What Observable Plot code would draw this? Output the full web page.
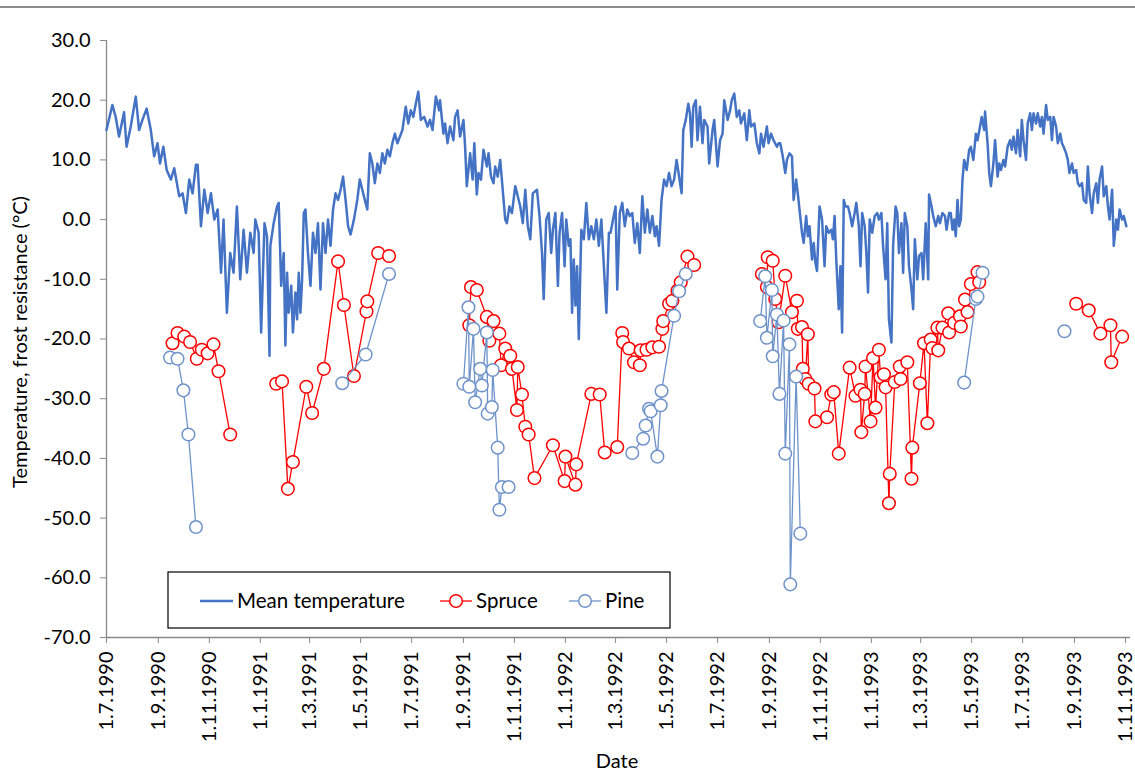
<!DOCTYPE html>
<html><head><meta charset="utf-8">
<script src="https://cdn.jsdelivr.net/npm/d3@7"></script>
<script src="https://cdn.jsdelivr.net/npm/@observablehq/plot@0.6"></script>
<style>
html,body{margin:0;padding:0;background:#fff;}
#chart{position:relative;width:1135px;height:772px;overflow:hidden;}
#topline{position:absolute;left:0;top:6px;width:1135px;height:0;border-top:2px solid #8c8c8c;}
</style></head>
<body><div id="chart"><div id="topline"></div></div>
<script>
// ---- data ----
const startDate = "1990-07-01";   // day 0
const endDate = "1993-11-07";
const xTickDates = ["1990-07-01","1990-09-01","1990-11-01","1991-01-01","1991-03-01","1991-05-01","1991-07-01","1991-09-01","1991-11-01","1992-01-01","1992-03-01","1992-05-01","1992-07-01","1992-09-01","1992-11-01","1993-01-01","1993-03-01","1993-05-01","1993-07-01","1993-09-01","1993-11-01"];
const yTicks = [-70,-60,-50,-40,-30,-20,-10,0,10,20,30];

// mean temperature: days since startDate, value (°C)
const tempDays = [
0,7,11,15,21,24,29,35,39,43,48,53,57,61,64,68,72,77,81,87,91,95,99,103,107,109,113,117,121,125,129,133,137,140,144,148,152,156,160,164,168,172,176,178,182,185,189,192,195,
196,200,204,206,209,212,214,216,218,221,223,226,228,230,232,234,236,238,241,244,247,250,253,256,259,262,265,268,271,274,277,280,283,286,289,292,296,300,303,306,309,312,315,318,321,324,327,330,333,336,339,342,345,348,351,354,358,361,364,367,370,373,376,380,384,387,390,394,398,
399,403,405,408,411,415,417,420,423,427,429,431,435,438,440,443,445,448,451,455,457,460,463,465,468,471,474,477,479,482,485,489,492,495,498,501,504,507,510,515,518,521,523,526,529,532,534,537,540,542,545,548,550,553,555,557,559,561,563,565,568,571,574,577,580,583,586,589,592,595,598,601,
603,606,609,611,614,617,620,623,626,629,632,635,638,641,644,647,650,653,656,658,661,664,667,670,673,676,679,682,685,688,690,693,696,698,700,702,705,707,710,713,715,719,721,725,727,731,734,737,739,743,746,748,751,754,757,759,763,766,769,771,775,778,781,783,786,790,792,795,798,802,804,
806,809,812,814,817,820,822,825,827,829,832,834,837,839,841,844,846,848,850,853,856,859,861,864,867,869,871,873,876,878,880,882,884,887,889,892,895,897,900,902,904,907,909,911,913,916,919,922,924,927,929,932,934,936,939,941,944,946,948,951,953,955,958,960,963,965,967,970,972,975,977,980,983,984,987,989,992,995,997,1000,1003,1005,1008,
1010,1012,1014,1016,1018,1020,1022,1024,1026,1029,1032,1034,1037,1040,1042,1045,1047,1050,1051,1054,1056,1058,1061,1063,1066,1068,1070,1073,1075,1078,1081,1083,1085,1088,1090,1093,1095,1097,1100,1102,1105,1107,1109,1112,1114,1117,1119,1121,1124,1126,1129,1131,1133,1136,1138,1141,1143,1145,1148,1150,1152,1155,1157,1160,1162,1164,1167,1169,1172,1174,1176,1179,1181,1184,1186,1188,1191,1193,1196,1198,1200,1203,1205,1208,1210,1212,1215,1217,1220
];
const tempValues = [
15,19.2,17.2,13.9,18,12.2,15.6,20.6,15,16.7,18.6,15,10.6,12.8,9.4,12.2,8.3,6.7,8.6,3.9,4.4,1.1,6.7,4.4,9.2,9.2,-1.1,5,1.1,4.4,0,1.7,-8.9,0,-15.6,-5.6,-8.9,2.2,-10,-1.7,-8.9,-2.2,-5.6,0,-2.2,-18.9,-0.6,-2.8,-22.8,
-4.4,-0.6,2.2,2.8,-11.1,-5.6,-21.1,-8.9,-15.6,-11.1,-18.9,-12.2,-16.7,-8.9,-15.6,-10,1.1,1.7,-5.6,-11.1,-2.2,-5.6,-0.6,-11.7,-0.6,-5.6,0,-4.4,1.7,4.4,3.3,5,7.2,3.3,-1.1,-2.5,0,3.3,6.7,5,3.3,1.7,11.1,9.4,6.1,9.4,7.8,11.1,9.4,11.7,10.6,12.8,14.4,12.8,13.9,15,18.9,16.1,18.3,17.2,19.4,21.4,16.7,17.2,15.6,16.7,15,20.6,18.3,
20,14.4,16.1,12.8,15.6,13.3,17.2,18.3,13.9,16.7,12.2,5.6,11.1,6.7,12.8,4.2,7.8,6.7,11.7,8.9,11.1,7.2,6.1,8.9,7.2,10,5,0,-0.6,2.2,1.1,5.6,3.9,2.2,-0.6,5,-1.1,-3.3,4.4,5,0.6,-5.6,-13.3,0,1.1,-5.6,-1.7,1.1,-11.1,-2.2,1.1,-7.8,0,-4.4,-3.3,-15.6,-6.7,-14.4,-7.8,-20,-1.7,-3.3,2.8,-3.3,-1.1,-3.3,0,-4.4,0,-7.8,-15.6,-2.2,
-2.2,0,2.2,-11.7,1.1,2.8,-1.1,1.7,0.6,1.1,-3.9,-0.6,-5.6,3.9,-2.2,1.7,-2.2,0.6,-2.8,-1.1,-4.4,3.3,6.7,5.6,7.8,5.6,6.7,10,7.2,4.4,15,16.7,19.4,17.8,12.2,18.9,20,13.3,18.9,12.8,16.7,15.6,9.4,15,16.7,8.9,13.3,14.4,20,16.7,18.3,20,21.1,17.2,18.3,16.1,17.8,13.3,18.3,15.6,16.1,12.8,11.1,14.4,12.2,15.6,12.8,14.4,13.3,12.2,12.8,
12.8,10.6,7.8,10,11.1,10.6,3.3,6.7,4.4,1.7,-2.2,-3.9,0.6,-2.8,-1.1,-6.7,-3.9,-7.2,-8.6,2.2,0,-7.8,-1.1,-2.2,-1.7,-3.3,0.6,-6.7,-15,-7.8,-18.9,3.3,2.2,2.2,1.1,-1.1,1.1,2.8,-1.1,-7.8,1.1,-1.1,-5.6,-12.2,0,-2.2,0.6,1.1,0,1.1,-4.4,-10,-0.6,-16.7,-20.6,-4.4,2.2,1.1,-5.6,-0.6,-8.9,1.1,-1.1,-7.8,-11.7,-15,-3.3,-10,-6.1,-5.6,-10,-0.6,-10,4.2,2.2,0.6,-1.1,0.6,-0.6,1.1,0.6,-1.7,1.1,
1.1,-1.7,0,-2.8,3.3,-1.1,0,6.7,10,8.3,11.7,12.2,10,14.4,13.3,15.6,17.2,15,18.1,12.8,7.8,5.6,9.4,13.3,7.2,9.4,8.3,10,8.9,12.2,13.3,11.7,13.9,11.1,15,10.6,16.7,13.3,10,16.1,17.8,15,17.8,16.1,17.8,15.6,17.2,14.4,19.2,16.7,17.2,13.3,17.2,15.6,12.8,14.4,12.8,12.2,11.1,10,7.8,9.4,7.8,8.3,6.1,5.6,6.1,3.3,2.8,8.9,4.4,1.1,4.4,6.1,2.8,6.7,8.9,3.9,5.6,2.2,0,5,-4.4,0,-1.7,1.7,0,0.6,-1.1
];

// frost resistance, spruce: one inner array per measuring season (days since startDate)
const spruceDays = [
  [79,85,93,100,108,114,121,128,134,148],
  [203,210,217,223,239,246,260,277,284,296,311,312,325,338],
  [434,436,443,455,458,463,470,472,477,483,485,491,492,497,501,505,512,534,548,549,561,562,580,590,596,611,617,618,625,631,638,639,646,653,661,665,666,673,677,683,687,695,703],
  [784,790,791,797,800,804,812,820,826,827,832,833,836,839,840,847,848,862,867,870,876,889,896,902,903,907,908,914,917,920,924,926,930,932,936,937,943,949,950,958,963,964,973,978,982,986,988,994,995,1000,1007,1008,1014,1021,1022,1027,1030,1034,1042,1044],
  [1160,1175,1189,1201,1202,1215]
];
const spruceValues = [
  [-20.7,-19.0,-19.6,-20.5,-23.3,-21.8,-22.4,-20.9,-25.4,-36.0],
  [-27.5,-27.1,-45.1,-40.6,-28.0,-32.4,-25.0,-7.0,-14.3,-26.2,-15.4,-13.7,-5.6,-6.1],
  [-17.7,-11.3,-11.8,-16.3,-20.3,-17.0,-19.1,-24.4,-21.6,-22.8,-25.0,-31.9,-24.7,-29.3,-34.7,-36.0,-43.3,-37.8,-43.8,-39.7,-44.4,-41.0,-29.2,-29.3,-39.0,-38.1,-19.0,-20.5,-21.6,-23.9,-24.4,-21.9,-21.8,-21.4,-21.3,-18.3,-17.0,-14.1,-13.6,-11.9,-10.5,-6.2,-7.6],
  [-9.1,-11.3,-6.3,-6.9,-13.3,-17.2,-9.4,-15.5,-13.6,-18.3,-18.0,-25.0,-26.7,-19.2,-27.5,-28.3,-33.8,-33.1,-29.3,-28.9,-39.2,-24.8,-29.5,-28.5,-35.6,-29.2,-24.6,-33.8,-23.2,-31.5,-21.8,-26.4,-25.9,-28.1,-47.5,-42.6,-27.2,-24.6,-26.7,-23.9,-43.4,-38.2,-27.4,-20.7,-34.1,-20.1,-21.5,-18.1,-21.9,-18.1,-15.7,-18.9,-17.3,-16.2,-17.9,-13.4,-15.5,-10.8,-8.8,-10.5],
  [-14.1,-15.2,-19.1,-17.7,-23.9,-19.6]
];

// frost resistance, pine
const pineDays = [
  [76,85,92,98,107],
  [282,310,338],
  [427,433,434,439,441,447,449,455,456,461,462,468,470,473,481],
  [629,642,645,649,651,659,663,664,679,685,693],
  [782,788,790,796,797,802,805,810,812,817,818,825,830],
  [1026,1040,1042,1048],
  [1146]
];
const pineValues = [
  [-23.1,-23.3,-28.6,-36.0,-51.5],
  [-27.4,-22.6,-9.1],
  [-27.5,-14.7,-28.0,-18.3,-30.6,-25.0,-27.8,-18.9,-32.5,-31.4,-25.2,-38.2,-48.6,-44.8,-44.8],
  [-39.1,-36.7,-34.5,-31.7,-32.1,-39.7,-31.1,-28.7,-16.1,-12.0,-9.1],
  [-17.0,-9.5,-19.8,-11.8,-22.9,-15.9,-29.2,-16.9,-39.2,-20.9,-61.1,-26.3,-52.6],
  [-27.3,-13.3,-12.9,-8.9],
  [-18.7]
];

const seriesNames = ["Mean temperature", "Spruce", "Pine"];
const seriesColors = ["#4472C4", "#FF0000", "#6E93CA"];

// ---- build ----
const t0 = new Date(startDate + "T00:00:00Z");
const toDate = d => d3.utcDay.offset(t0, d);
const temp = tempDays.map((d, i) => ({date: toDate(d), value: tempValues[i]}));
const seasonRows = (days, vals) => days.flatMap((ds, s) => ds.map((d, i) => ({date: toDate(d), value: vals[s][i], season: s})));
const spruce = seasonRows(spruceDays, spruceValues);
const pine = seasonRows(pineDays, pineValues);
const xDomain = [t0, new Date(endDate + "T00:00:00Z")];
const fmtDate = d => `${d.getUTCDate()}.${d.getUTCMonth() + 1}.${d.getUTCFullYear()}`;
const axisGray = "#898989";

const chart = Plot.plot({
  width: 1135, height: 772,
  marginLeft: 106, marginRight: 5, marginTop: 40, marginBottom: 135,
  style: {fontFamily: "Lato, 'Open Sans', sans-serif", fontSize: "20px", color: "#000", background: "transparent"},
  x: {type: "utc", domain: xDomain},
  y: {domain: [-70, 30]},
  marks: [
    Plot.ruleX([xDomain[0]], {y1: -70, y2: 30, stroke: axisGray, strokeWidth: 1.3}),
    Plot.ruleY([-70], {stroke: axisGray, strokeWidth: 1.3}),
    Plot.axisY({ticks: yTicks, tickFormat: d => d.toFixed(1), tickSize: 6, tickPadding: 10, stroke: axisGray, fill: "#000", label: null, fontSize: 20}),
    Plot.axisX({ticks: xTickDates.map(s => new Date(s + "T00:00:00Z")), tickFormat: fmtDate, tickRotate: -90, tickSize: 6, tickPadding: 8, stroke: axisGray, fill: "#000", label: null, fontSize: 20}),
    Plot.line(temp, {x: "date", y: "value", stroke: seriesColors[0], strokeWidth: 2.5, curve: "linear"}),
    Plot.line(spruce, {x: "date", y: "value", z: "season", stroke: seriesColors[1], strokeWidth: 1.3}),
    Plot.dot(spruce, {x: "date", y: "value", r: 6.3, stroke: seriesColors[1], fill: "white", strokeWidth: 1.5}),
    Plot.line(pine, {x: "date", y: "value", z: "season", stroke: seriesColors[2], strokeWidth: 1.3}),
    Plot.dot(pine, {x: "date", y: "value", r: 6.3, stroke: seriesColors[2], fill: "white", strokeWidth: 1.5})
  ]
});
document.getElementById("chart").appendChild(chart);

// titles and legend
const svg = d3.select(chart);
svg.append("text").attr("x", 617).attr("y", 768).attr("text-anchor", "middle")
  .attr("font-size", 20).attr("fill", "#000").text("Date");
svg.append("text").attr("transform", "translate(27,342) rotate(-90)").attr("text-anchor", "middle")
  .attr("font-size", 20).attr("fill", "#000").text("Temperature, frost resistance (°C)");

const lg = svg.append("g");
lg.append("rect").attr("x", 168).attr("y", 572).attr("width", 502).attr("height", 56)
  .attr("fill", "white").attr("stroke", "#000").attr("stroke-width", 1.2);
const items = [
  {x0: 200, x1: 233, tx: 237, marker: false},
  {x0: 440, x1: 472, tx: 476, marker: true},
  {x0: 569, x1: 601, tx: 605, marker: true}
];
items.forEach((it, i) => {
  lg.append("line").attr("x1", it.x0).attr("x2", it.x1).attr("y1", 601).attr("y2", 601)
    .attr("stroke", seriesColors[i]).attr("stroke-width", i === 0 ? 2.5 : 1.3);
  if (it.marker) lg.append("circle").attr("cx", (it.x0 + it.x1) / 2).attr("cy", 601).attr("r", 6.3)
    .attr("fill", "white").attr("stroke", seriesColors[i]).attr("stroke-width", 1.5);
  lg.append("text").attr("x", it.tx).attr("y", 608).attr("text-anchor", "start")
    .attr("font-size", 20.5).attr("fill", "#000").text(seriesNames[i]);
});
</script>
</body></html>
